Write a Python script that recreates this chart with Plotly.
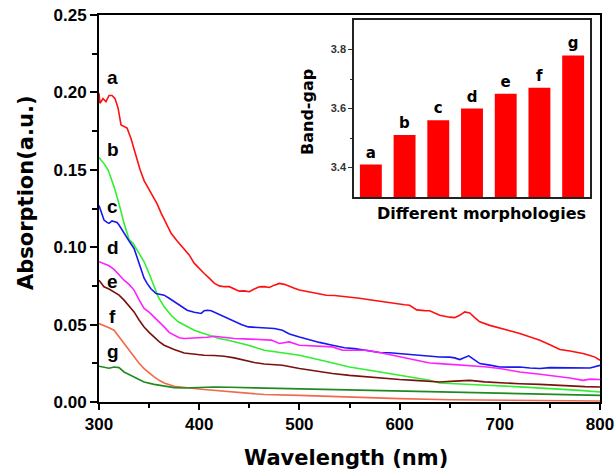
import plotly.graph_objects as go

W, H = 616, 472

# ---- main spectra (wavelength nm, absorption a.u.) ----
wl_a = [300, 301, 304, 307, 310, 313, 316, 319, 322, 325, 328, 332, 337, 341, 345, 350, 355, 358, 362, 367,
        372, 378, 385, 390, 395, 400, 405, 410, 415, 420, 425, 430, 435, 440, 445, 450, 455, 460, 465, 470,
        475, 480, 485, 490, 495, 500, 510, 520, 527, 535, 545, 550, 560, 570, 583, 595, 605, 610, 617, 625,
        630, 640, 645, 650, 655, 660, 665, 670, 675, 680, 690, 700, 710, 720, 730, 740, 750, 760, 770, 775,
        783, 790, 795, 800]
abs_a = [0.1995, 0.193, 0.196, 0.194, 0.198, 0.198, 0.196, 0.190, 0.179, 0.178, 0.177, 0.170, 0.158, 0.150,
         0.143, 0.137, 0.132, 0.128, 0.122, 0.116, 0.109, 0.104, 0.099, 0.095, 0.0897, 0.086, 0.083, 0.080,
         0.0768, 0.075, 0.0745, 0.0745, 0.073, 0.0716, 0.0718, 0.0712, 0.073, 0.0744, 0.0745, 0.074, 0.0755,
         0.0766, 0.076, 0.0745, 0.0735, 0.0723, 0.071, 0.0695, 0.069, 0.0688, 0.0682, 0.068, 0.067, 0.066,
         0.0647, 0.0638, 0.0628, 0.0625, 0.0595, 0.059, 0.0589, 0.056, 0.0552, 0.0548, 0.0545, 0.056, 0.0582,
         0.0575, 0.0545, 0.0518, 0.0495, 0.0475, 0.046, 0.0442, 0.042, 0.0399, 0.037, 0.0339, 0.033, 0.0325,
         0.0313, 0.030, 0.029, 0.027]

wl_b = [300, 305, 309, 315, 320, 325, 330, 334, 340, 345, 350, 354, 359, 365, 372, 379, 387, 395, 403, 412,
        420, 429, 440, 449, 465, 480, 500, 525, 550, 570, 590, 605, 617, 630, 640, 660, 687, 720, 753, 780, 800]
abs_b = [0.158, 0.154, 0.150, 0.139, 0.128, 0.1154, 0.105, 0.1025, 0.096, 0.0906, 0.083, 0.0766, 0.068,
         0.0615, 0.056, 0.0518, 0.049, 0.0464, 0.0445, 0.0425, 0.041, 0.0399, 0.038, 0.0367, 0.0334, 0.032,
         0.0302, 0.0265, 0.0226, 0.0205, 0.0184, 0.0165, 0.0151, 0.014, 0.0123, 0.0115, 0.0108, 0.0098,
         0.0087, 0.0075, 0.0065]

wl_c = [300, 303, 305, 308, 310, 313, 315, 318, 320, 324, 327, 331, 335, 338, 342, 345, 348, 352, 357, 361,
        365, 370, 375, 381, 388, 395, 402, 405, 408, 412, 417, 422, 428, 435, 442, 449, 457, 467, 475, 483,
        490, 500, 510, 520, 533, 545, 555, 567, 580, 590, 600, 610, 620, 627, 640, 650, 655, 660, 665, 669,
        673, 680, 690, 700, 710, 720, 730, 740, 750, 767, 780, 790, 800]
abs_c = [0.127, 0.122, 0.1175, 0.116, 0.1154, 0.117, 0.1164, 0.116, 0.1143, 0.110, 0.1067, 0.103, 0.0992,
         0.093, 0.0852, 0.080, 0.0766, 0.073, 0.0701, 0.0695, 0.069, 0.067, 0.0647, 0.062, 0.0593, 0.058,
         0.0572, 0.059, 0.0593, 0.059, 0.0575, 0.0561, 0.054, 0.0518, 0.050, 0.0485, 0.0482, 0.0481, 0.0475,
         0.0464, 0.044, 0.042, 0.040, 0.0385, 0.0367, 0.035, 0.0345, 0.0334, 0.032, 0.0318, 0.0313, 0.0305,
         0.030, 0.0296, 0.0291, 0.029, 0.0285, 0.0274, 0.029, 0.0298, 0.028, 0.0248, 0.0238, 0.0226, 0.0225,
         0.0226, 0.022, 0.0216, 0.0222, 0.022, 0.0222, 0.022, 0.0237]

wl_d = [300, 305, 310, 315, 320, 325, 330, 335, 340, 345, 350, 355, 360, 365, 370, 375, 380, 385, 393, 402,
        408, 415, 425, 435, 445, 455, 465, 472, 480, 490, 500, 515, 533, 543, 555, 567, 580, 600, 615, 630,
        640, 655, 670, 685, 700, 710, 720, 740, 760, 770, 783, 790, 800]
abs_d = [0.0906, 0.0895, 0.088, 0.0857, 0.082, 0.0787, 0.076, 0.0723, 0.066, 0.0604, 0.058, 0.055, 0.052,
         0.0485, 0.045, 0.0431, 0.0415, 0.041, 0.0412, 0.0417, 0.0418, 0.0425, 0.0418, 0.041, 0.0408, 0.0404,
         0.0399, 0.040, 0.0378, 0.0388, 0.0367, 0.036, 0.0356, 0.0334, 0.0336, 0.0334, 0.032, 0.0291, 0.027,
         0.0252, 0.0248, 0.0242, 0.0237, 0.0228, 0.0216, 0.0205, 0.0194, 0.0179, 0.0166, 0.0155, 0.014,
         0.0148, 0.0145]

wl_e = [300, 305, 310, 315, 320, 325, 330, 335, 340, 345, 350, 355, 360, 365, 375, 385, 395, 405, 415, 425,
        435, 445, 455, 465, 483, 500, 515, 533, 550, 567, 585, 600, 615, 630, 640, 655, 670, 685, 700, 720,
        740, 760, 770, 785, 800]
abs_e = [0.0787, 0.0744, 0.073, 0.0712, 0.069, 0.0658, 0.062, 0.0582, 0.053, 0.0485, 0.045, 0.042, 0.039,
         0.0367, 0.0339, 0.0317, 0.031, 0.0302, 0.030, 0.0296, 0.0285, 0.027, 0.0255, 0.0245, 0.0237, 0.0216,
         0.020, 0.0184, 0.0172, 0.0162, 0.0152, 0.0145, 0.014, 0.0136, 0.0129, 0.0135, 0.014, 0.013, 0.0123,
         0.0118, 0.0114, 0.0107, 0.0102, 0.0099, 0.0097]

wl_f = [300, 305, 310, 315, 320, 325, 330, 335, 340, 345, 350, 355, 360, 365, 375, 385, 395, 405, 415, 430,
        445, 465, 500, 550, 600, 650, 700, 750, 800]
abs_f = [0.0507, 0.0496, 0.048, 0.0464, 0.042, 0.0378, 0.0335, 0.0291, 0.025, 0.0216, 0.0188, 0.0162, 0.014,
         0.0123, 0.0102, 0.0093, 0.0087, 0.0081, 0.0076, 0.0067, 0.0058, 0.0048, 0.0043, 0.0032, 0.0022,
         0.0015, 0.0011, 0.0008, 0.0006]

wl_g = [300, 305, 310, 315, 320, 325, 330, 335, 340, 345, 355, 365, 375, 385, 395, 405, 415, 430, 445, 465,
        500, 550, 600, 670, 740, 770, 800]
abs_g = [0.0231, 0.0222, 0.0218, 0.0226, 0.0222, 0.0194, 0.018, 0.0162, 0.0145, 0.0129, 0.0114, 0.0104,
         0.0093, 0.0090, 0.0093, 0.0095, 0.0097, 0.0095, 0.0093, 0.0089, 0.0087, 0.0079, 0.0071, 0.0065,
         0.0054, 0.005, 0.0043]

series_names = ["a", "b", "c", "d", "e", "f", "g"]
series_wl = [wl_a, wl_b, wl_c, wl_d, wl_e, wl_f, wl_g]
series_abs = [abs_a, abs_b, abs_c, abs_d, abs_e, abs_f, abs_g]

# ---- inset: band gap per morphology ----
morphologies = ["a", "b", "c", "d", "e", "f", "g"]
band_gap = [3.41, 3.51, 3.56, 3.60, 3.65, 3.67, 3.78]

x_ticks = [300, 400, 500, 600, 700, 800]
y_ticks = [0.00, 0.05, 0.10, 0.15, 0.20, 0.25]
inset_ticks = [3.4, 3.6, 3.8]

# ---- styles / label positions ----
colors = ["#ff1010", "#30ee30", "#1818f0", "#ff20ff", "#7a1010", "#f06a4a", "#208a20"]
label_pos = [(313.5, 0.2094), (313.5, 0.1628), (313.5, 0.126), (313.5, 0.1001),
             (313.5, 0.0781), (313.5, 0.0554), (313.5, 0.0328)]

fig = go.Figure()
for name, x, y, c in zip(series_names, series_wl, series_abs, colors):
    fig.add_trace(go.Scatter(x=x, y=y, mode="lines", name=name,
                             line=dict(color=c, width=1.6), xaxis="x", yaxis="y"))

fig.add_trace(go.Bar(x=list(range(len(morphologies))), y=band_gap,
                     marker=dict(color="#ff0000", line=dict(width=0)), width=0.65,
                     text=morphologies, textposition="outside", cliponaxis=False,
                     textfont=dict(family="DejaVu Sans", size=15, color="black", weight="bold"),
                     xaxis="x2", yaxis="y2"))

tickfont = dict(family="Liberation Sans, Arial", size=17, color="black", weight="bold")
fig.update_layout(
    width=W, height=H, margin=dict(l=0, r=0, t=0, b=0, pad=0, autoexpand=False),
    paper_bgcolor="white", plot_bgcolor="white", showlegend=False,
    xaxis=dict(domain=[99 / W, 600 / W], range=[300, 800], tickvals=x_ticks, automargin=False,
               ticks="outside", ticklen=6, tickwidth=2, tickcolor="black",
               minor=dict(tickvals=[350, 450, 550, 650, 750], ticks="outside", ticklen=4, tickwidth=2,
                          tickcolor="black"),
               showline=True, linewidth=2, linecolor="black", mirror=True,
               showgrid=False, zeroline=False, tickfont=tickfont, anchor="y"),
    yaxis=dict(domain=[(H - 402) / H, (H - 15) / H], range=[0, 0.25], tickvals=y_ticks, automargin=False,
               tickformat=".2f", ticks="outside", ticklen=7, tickwidth=2, tickcolor="black",
               minor=dict(tickvals=[0.025, 0.075, 0.125, 0.175, 0.225], ticks="outside", ticklen=5,
                          tickwidth=2, tickcolor="black"),
               showline=True, linewidth=2, linecolor="black", mirror=True,
               showgrid=False, zeroline=False, tickfont=tickfont, anchor="x"),
    xaxis2=dict(domain=[354 / W, 590 / W], range=[-0.5, 6.5], showticklabels=False, ticks="",
                automargin=False,
                showline=True, linewidth=1.5, linecolor="#222", mirror=True,
                showgrid=False, zeroline=False, anchor="y2"),
    yaxis2=dict(domain=[(H - 197) / H, (H - 20) / H], range=[3.3, 3.9], tickvals=inset_ticks,
                automargin=False,
                tickformat=".1f", ticks="outside", ticklen=4, tickwidth=1.2, tickcolor="#333",
                minor=dict(tickvals=[3.5, 3.7], ticks="outside", ticklen=2, tickwidth=1, tickcolor="#333"),
                showline=True, linewidth=1.5, linecolor="#222", mirror=True,
                showgrid=False, zeroline=False, anchor="x2",
                tickfont=dict(family="Liberation Sans, Arial", size=11, color="#333", weight="bold")),
)

annotations = []
for name, (lx, ly) in zip(series_names, label_pos):
    annotations.append(dict(x=lx, y=ly, xref="x", yref="y", text=name, showarrow=False,
                            xanchor="center", yanchor="middle",
                            font=dict(family="Liberation Sans, Arial", size=19, color="black", weight="bold")))
titlefont = dict(family="DejaVu Sans", size=21, color="black", weight="bold")
annotations.append(dict(x=26 / W, y=(H - 193) / H, xref="paper", yref="paper", text="Absorption(a.u.)",
                        textangle=-90, showarrow=False, xanchor="center", yanchor="middle", font=titlefont))
annotations.append(dict(x=346 / W, y=(H - 458) / H, xref="paper", yref="paper", text="Wavelength (nm)",
                        showarrow=False, xanchor="center", yanchor="middle", font=titlefont))
insetfont = dict(family="DejaVu Sans", size=16, color="black", weight="bold")
annotations.append(dict(x=481 / W, y=(H - 213) / H, xref="paper", yref="paper", text="Different morphologies",
                        showarrow=False, xanchor="center", yanchor="middle", font=insetfont))
annotations.append(dict(x=307 / W, y=(H - 112) / H, xref="paper", yref="paper", text="Band-gap",
                        textangle=-90, showarrow=False, xanchor="center", yanchor="middle", font=insetfont))
fig.update_layout(annotations=annotations)

fig.write_html("out.html", config={"displayModeBar": False},
               post_script="document.body.style.margin='0px';document.body.style.overflow='hidden';")
